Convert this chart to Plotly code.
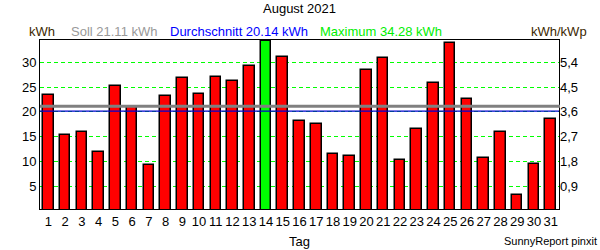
import plotly.graph_objects as go

# ---- data ----
days = list(range(1, 32))
day_labels = [str(d) for d in days]
kwh = [23.35, 15.28, 15.89, 11.85, 25.16, 20.93, 9.23, 23.14, 26.77, 23.55,
       26.98, 26.17, 29.19, 34.28, 31.0, 18.1, 17.5, 11.45, 11.05, 28.39,
       30.8, 10.24, 16.49, 25.77, 33.83, 22.54, 10.65, 15.89, 3.25, 9.44, 18.5]
soll = 21.11
average = 20.14
maximum = 34.28
kwp = 5.5556
left_ticks = [5, 10, 15, 20, 25, 30]
right_ticks = [0.9, 1.8, 2.7, 3.6, 4.5, 5.4]
right_tick_labels = ["0,9", "1,8", "2,7", "3,6", "4,5", "5,4"]
title = "August 2021"
x_title = "Tag"

# ---- layout geometry ----
W, H = 600, 250
L, R, T, B = 40, 41, 40, 41
PW, PH = W - L - R, H - T - B
FONT = "Liberation Sans, Arial, sans-serif"

def px(x):
    return (x - L) / PW

def py(y):
    return (H - B - y) / PH

colors = ["#00ff00" if v == max(kwh) else "#ff0000" for v in kwh]

fig = go.Figure()
fig.add_trace(go.Bar(
    x=days, y=kwh, width=0.63,
    marker=dict(color=colors, line=dict(color="black", width=1.5)),
    hoverinfo="skip", showlegend=False,
))
fig.add_trace(go.Scatter(
    x=days, y=[v / kwp for v in kwh], yaxis="y2", mode="markers",
    marker=dict(opacity=0), hoverinfo="skip", showlegend=False,
))

ymin, ymax = 0.4, 34.5
fig.update_layout(
    width=W, height=H,
    margin=dict(l=L, r=R, t=T, b=B, pad=0),
    paper_bgcolor="white", plot_bgcolor="white",
    font=dict(family=FONT, size=13, color="black"),
    bargap=0,
    xaxis=dict(
        range=[0.5, 31.5], tickmode="array", tickvals=days, ticktext=day_labels,
        showgrid=False, zeroline=False, showline=True, linecolor="black",
        linewidth=1, mirror=True, ticks="", tickfont=dict(size=13, color="black"),
    ),
    yaxis=dict(
        range=[ymin, ymax], tickmode="array", tickvals=left_ticks,
        ticktext=[str(t) for t in left_ticks],
        showgrid=True, gridcolor="#00ff00", griddash="4px,3px", gridwidth=1,
        zeroline=False, showline=True, linecolor="black", linewidth=1, mirror=True,
        ticks="", tickfont=dict(size=13, color="black"),
    ),
    yaxis2=dict(
        overlaying="y", side="right", range=[ymin / kwp, ymax / kwp],
        tickmode="array", tickvals=right_ticks, ticktext=right_tick_labels,
        showgrid=False, zeroline=False, showline=False, ticks="",
        tickfont=dict(size=13, color="black"),
    ),
)

# reference lines (Soll, Durchschnitt)
fig.add_shape(type="line", xref="paper", x0=0, x1=1.002, yref="y", y0=soll, y1=soll,
              line=dict(color="#808080", width=3), layer="above")
fig.add_shape(type="line", xref="paper", x0=0, x1=1, yref="y", y0=average, y1=average,
              line=dict(color="#0000d0", width=1.2), layer="above")

def ann(text, x, y, color="black", size=13, xanchor="left"):
    fig.add_annotation(text=text, xref="paper", yref="paper", x=px(x), y=py(y),
                       xanchor=xanchor, yanchor="middle", showarrow=False,
                       font=dict(family=FONT, size=size, color=color))

ann(title, 299, 9, xanchor="center")
ann("kWh", 27, 32, color="#3c2800")
ann(f"Soll {soll:.2f} kWh", 69, 32, color="#999999")
ann(f"Durchschnitt {average:.2f} kWh", 168, 32, color="#0000ff")
ann(f"Maximum {maximum:.2f} kWh", 318, 32, color="#00ee00")
ann("kWh/kWp", 589, 32, color="#3c2800", xanchor="right")
ann(x_title, 299, 241, xanchor="center")
ann("SunnyReport pinxit", 599, 241, size=11, xanchor="right")

fig.write_html("out.html")
